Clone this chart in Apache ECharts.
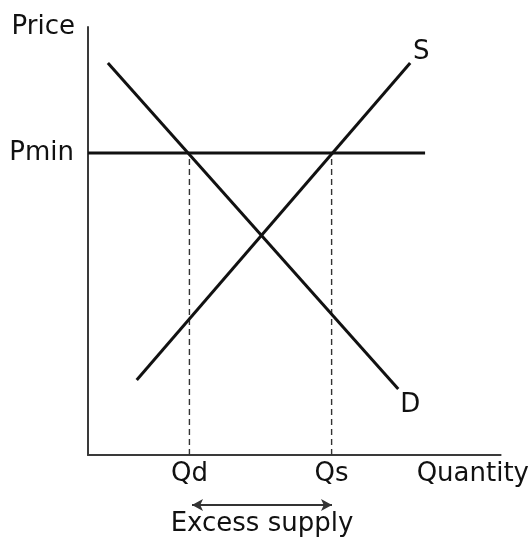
<!DOCTYPE html>
<html>
<head>
<meta charset="utf-8">
<script src="https://cdn.jsdelivr.net/npm/echarts@6/dist/echarts.min.js"></script>
<style>html,body{margin:0;padding:0;background:#fff}#c{width:532px;height:539px}</style>
</head>
<body>
<div id="c"></div>
<script>
// Data (axis units: quantity 0..415, price 0..428)
const demandPoints = [[20, 392], [312, 66]];
const supplyPoints = [[49, 75], [324, 392]];
const priceFloor = 302;
const floorEnd = 339;
const qd = 102;
const qs = 245;
const quantityTicks = [qd, qs];
const quantityTickLabels = ['Qd', 'Qs'];
const priceTicks = [priceFloor];
const priceTickLabels = ['Pmin'];
const excessRange = [104, 244];
const excessLabel = 'Excess supply';

const FONT = 'DejaVu Sans';
const FS = 26;
const INK = '#111';

const chart = echarts.init(document.getElementById('c'), null, {renderer: 'canvas'});

function lastLabel(points, text, pos, offset) {
  return points.map((p, i) => i === points.length - 1 ? {
    value: p,
    label: {show: true, formatter: text, position: pos, offset: offset,
            fontFamily: FONT, fontSize: FS, color: INK}
  } : {value: p});
}

chart.setOption({
  animation: false,
  backgroundColor: '#fff',
  grid: [
    {left: 88, right: 29, top: 27, bottom: 84},
    {left: 88, right: 29, top: 495, height: 40}
  ],
  xAxis: [{
    type: 'value', min: 0, max: 415, gridIndex: 0,
    name: 'Quantity', nameLocation: 'end', nameGap: -84,
    nameTextStyle: {fontFamily: FONT, fontSize: FS, color: INK, align: 'left', verticalAlign: 'top', padding: [6, 0, 0, 0]},
    axisLine: {show: true, lineStyle: {color: '#3a3a3a', width: 2}},
    axisTick: {show: false},
    splitLine: {show: false},
    axisLabel: {
      customValues: quantityTicks,
      formatter: v => quantityTickLabels[quantityTicks.indexOf(v)],
      fontFamily: FONT, fontSize: FS, color: INK, margin: 6
    }
  }, {
    type: 'value', min: 0, max: 415, gridIndex: 1, show: false
  }],
  yAxis: [{
    type: 'value', min: 0, max: 428, gridIndex: 0,
    name: 'Price', nameLocation: 'end', nameGap: 0,
    nameTextStyle: {fontFamily: FONT, fontSize: FS, color: INK, align: 'right', verticalAlign: 'middle', padding: [0, 13, 0, 0]},
    axisLine: {show: true, lineStyle: {color: '#3a3a3a', width: 2}},
    axisTick: {show: false},
    splitLine: {show: false},
    axisLabel: {
      customValues: priceTicks,
      formatter: v => priceTickLabels[priceTicks.indexOf(v)],
      fontFamily: FONT, fontSize: FS, color: INK, margin: 14, padding: [6, 0, 0, 0]
    }
  }, {
    type: 'value', min: 0, max: 4, gridIndex: 1, show: false
  }],
  series: [
    {
      type: 'line', name: 'Pmin', xAxisIndex: 0, yAxisIndex: 0,
      data: [[0, priceFloor], [floorEnd, priceFloor]],
      showSymbol: false, lineStyle: {color: INK, width: 3.2}, silent: true
    },
    {
      type: 'line', name: 'Qd', data: [[qd, 0], [qd, priceFloor]],
      showSymbol: false, lineStyle: {color: '#333', width: 1.4, type: [6, 4]}, silent: true
    },
    {
      type: 'line', name: 'Qs', data: [[qs, 0], [qs, priceFloor]],
      showSymbol: false, lineStyle: {color: '#333', width: 1.4, type: [6, 4]}, silent: true
    },
    {
      type: 'line', name: 'D', data: lastLabel(demandPoints, 'D', 'bottom', [12, -2]),
      symbol: 'circle', symbolSize: 0, showSymbol: true,
      lineStyle: {color: INK, width: 3}, silent: true
    },
    {
      type: 'line', name: 'S', data: lastLabel(supplyPoints, 'S', 'top', [11, 7]),
      symbol: 'circle', symbolSize: 0, showSymbol: true,
      lineStyle: {color: INK, width: 3}, silent: true
    },
    {
      type: 'line', name: 'Excess', xAxisIndex: 1, yAxisIndex: 1, data: [],
      markLine: {
        silent: true, animation: false,
        symbol: ['arrow', 'arrow'], symbolSize: [9, 11],
        lineStyle: {color: '#333', width: 1.8, type: 'solid'},
        label: {show: false},
        data: [[{coord: [excessRange[0], 3]}, {coord: [excessRange[1], 3]}]]
      }
    },
    {
      type: 'scatter', name: 'ExcessLabel', xAxisIndex: 1, yAxisIndex: 1,
      symbolSize: 0, silent: true,
      itemStyle: {opacity: 1},
      data: [[(excessRange[0] + excessRange[1]) / 2, 1.1]],
      label: {show: true, position: 'inside', formatter: excessLabel,
              fontFamily: FONT, fontSize: FS, color: INK, opacity: 1}
    }
  ]
});
</script>
</body>
</html>
